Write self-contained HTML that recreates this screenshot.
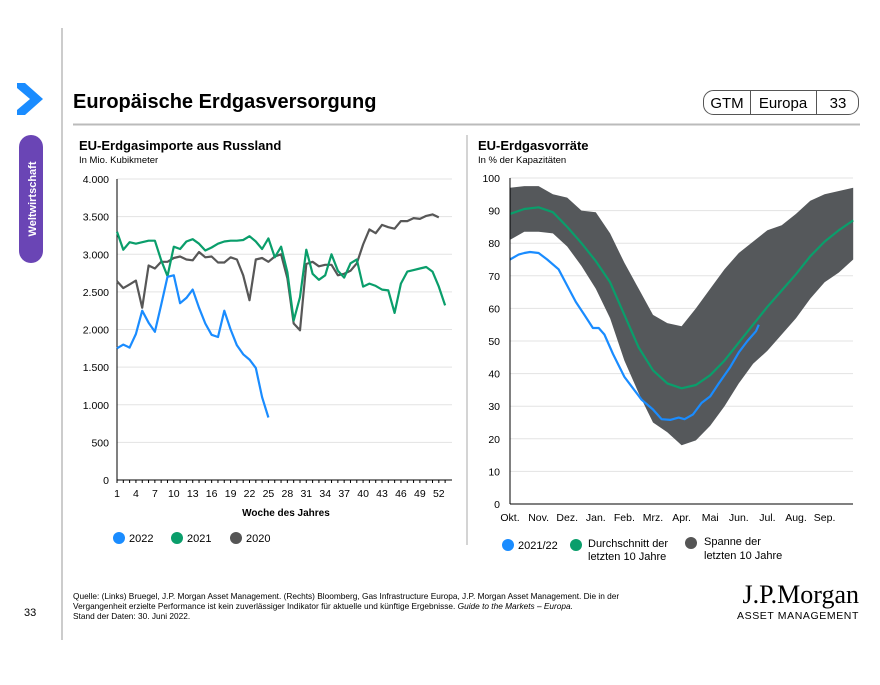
<!DOCTYPE html>
<html><head><meta charset="utf-8"><style>
body{margin:0;width:880px;height:680px;background:#fff;overflow:hidden;font-family:"Liberation Sans",Arial,sans-serif}
svg text{font-family:"Liberation Sans",Arial,sans-serif}
</style></head><body>
<svg id="s" width="880" height="680" xmlns="http://www.w3.org/2000/svg">
<line x1="62" y1="28" x2="62" y2="640" stroke="#999" stroke-width="1"/>
<polygon points="17,83 25,83 43,99 25,115 17,115 17,110 30,99 17,88" fill="#1a8cff"/>
<rect x="19" y="135" width="24" height="128" rx="12" fill="#6a45b5"/>
<text transform="translate(36,199) rotate(-90)" text-anchor="middle" font-size="11" font-weight="bold" fill="#fff">Weltwirtschaft</text>
<text x="73" y="108" font-size="20" font-weight="bold" fill="#000">Europäische Erdgasversorgung</text>
<line x1="73" y1="124.5" x2="860" y2="124.5" stroke="#bbb" stroke-width="2"/>
<rect x="703.5" y="90.5" width="155" height="24" rx="10" fill="none" stroke="#555"/>
<line x1="750.5" y1="91" x2="750.5" y2="114" stroke="#555"/>
<line x1="816.5" y1="91" x2="816.5" y2="114" stroke="#555"/>
<text x="727" y="108" font-size="15" text-anchor="middle">GTM</text>
<text x="783" y="108" font-size="15" text-anchor="middle">Europa</text>
<text x="838" y="108" font-size="15" text-anchor="middle">33</text>
<line x1="467" y1="135" x2="467" y2="545" stroke="#aaa"/>
<text x="79" y="150" font-size="13" font-weight="bold">EU-Erdgasimporte aus Russland</text>
<text x="79" y="163" font-size="9.5">In Mio. Kubikmeter</text>
<text x="478" y="150" font-size="13" font-weight="bold">EU-Erdgasvorräte</text>
<text x="478" y="163" font-size="9.5">In % der Kapazitäten</text>
<g id="L"></g><g id="R"></g>
<text x="286" y="516" font-size="10" font-weight="bold" text-anchor="middle">Woche des Jahres</text>
<circle cx="119" cy="538" r="6" fill="#1a8cff"/><text x="129" y="542" font-size="11">2022</text>
<circle cx="177" cy="538" r="6" fill="#0a9e6b"/><text x="187" y="542" font-size="11">2021</text>
<circle cx="236" cy="538" r="6" fill="#555"/><text x="246" y="542" font-size="11">2020</text>
<circle cx="508" cy="545" r="6" fill="#1a8cff"/><text x="518" y="549" font-size="11">2021/22</text>
<circle cx="576" cy="545" r="6" fill="#0a9e6b"/><text x="588" y="547" font-size="11">Durchschnitt der</text><text x="588" y="560" font-size="11">letzten 10 Jahre</text>
<circle cx="691" cy="543" r="6" fill="#555"/><text x="704" y="545" font-size="11">Spanne der</text><text x="704" y="559" font-size="11">letzten 10 Jahre</text>
<text x="73" y="599" font-size="8.3">Quelle: (Links) Bruegel, J.P. Morgan Asset Management. (Rechts) Bloomberg, Gas Infrastructure Europa, J.P. Morgan Asset Management. Die in der</text>
<text x="73" y="609" font-size="8.3">Vergangenheit erzielte Performance ist kein zuverlässiger Indikator für aktuelle und künftige Ergebnisse. <tspan font-style="italic">Guide to the Markets – Europa.</tspan></text>
<text x="73" y="619" font-size="8.3">Stand der Daten: 30. Juni 2022.</text>
<text x="24" y="616" font-size="11">33</text>
<text x="859" y="603" font-size="26" text-anchor="end" style="font-family:'Liberation Serif',serif">J.P.Morgan</text>
<text x="859" y="619" font-size="10.5" text-anchor="end" letter-spacing="0.6">ASSET MANAGEMENT</text>
</svg>
<script>
var NS="http://www.w3.org/2000/svg";
function el(g,t,a,txt){var e=document.createElementNS(NS,t);for(var k in a)e.setAttribute(k,a[k]);if(txt!==undefined)e.textContent=txt;document.getElementById(g).appendChild(e);return e;}
var x0=117,y0=480,yt=179,wk=6.31;
function lx(w){return x0+(w-1)*wk} function ly(v){return y0-(y0-yt)*v/4000}
function fmt(v){if(v<1000)return String(v);var t=Math.floor(v/1000),r=v%1000;return t+"."+("00"+r).slice(-3);}
for(var v=0;v<=4000;v+=500){var y=ly(v);if(v>0)el("L","line",{x1:x0,y1:y,x2:452,y2:y,stroke:"#e3e3e3"});el("L","text",{x:109,y:y+4,"font-size":10.5,"text-anchor":"end"},fmt(v));}
el("L","line",{x1:x0,y1:yt,x2:x0,y2:y0,stroke:"#000"});el("L","line",{x1:x0,y1:y0,x2:452,y2:y0,stroke:"#000"});
for(var w=1;w<=52;w+=3){el("L","text",{x:lx(w),y:497,"font-size":10.5,"text-anchor":"middle"},w);}
for(var w=1;w<=53;w++)el("L","line",{x1:lx(w),y1:y0,x2:lx(w),y2:y0+3,stroke:"#000"});
var d22=[1750,1800,1760,1940,2250,2090,1970,2330,2700,2720,2350,2420,2530,2290,2080,1930,1900,2250,2000,1790,1670,1600,1490,1100,830];
var d21=[3300,3060,3160,3140,3160,3180,3180,2920,2710,3100,3070,3170,3200,3140,3050,3090,3140,3170,3180,3180,3190,3240,3170,3070,3210,2960,3100,2760,2120,2430,3060,2740,2660,2720,3000,2780,2690,2880,2930,2570,2610,2580,2530,2520,2220,2610,2770,2790,2810,2830,2770,2570,2320];
var d20=[2640,2550,2600,2650,2290,2850,2810,2900,2900,2950,2970,2930,2920,3030,2960,2970,2890,2890,2960,2930,2720,2390,2930,2950,2900,2970,3000,2680,2080,1990,2870,2900,2840,2860,2860,2720,2740,2780,2880,3130,3330,3280,3390,3360,3340,3440,3440,3480,3470,3510,3530,3490];
function pl(d,c){el("L","polyline",{points:d.map(function(v,i){return lx(i+1).toFixed(1)+","+ly(v).toFixed(1)}).join(" "),fill:"none",stroke:c,"stroke-width":2.2,"stroke-linejoin":"round"});}
pl(d20,"#575757");pl(d21,"#0a9e6b");pl(d22,"#1a8cff");
var rx0=510,ry0=504,ryt=178,mw=28.6;
function rx(t){return rx0+t*mw} function ry(v){return ry0-(ry0-ryt)*v/100}
for(var v=0;v<=100;v+=10){var y=ry(v);if(v>0)el("R","line",{x1:rx0,y1:y,x2:853,y2:y,stroke:"#e3e3e3"});el("R","text",{x:500,y:y+4,"font-size":10.5,"text-anchor":"end"},v);}
var up=[[0,97],[0.5,97.5],[1,97.5],[1.5,95],[2,94],[2.5,90],[3,89.5],[3.5,83],[4,74],[4.5,66],[5,58],[5.5,55.5],[6,54.5],[6.5,60],[7,66],[7.5,72],[8,77],[8.5,80.5],[9,84],[9.5,85.5],[10,89],[10.5,93],[11,95],[12,97]];
var lo=[[0,81],[0.5,83.5],[1,83.5],[1.5,83],[2,79],[2.5,73],[3,66],[3.5,57],[4,44],[4.5,34],[5,25],[5.5,22],[6,18],[6.5,19.5],[7,24],[7.5,30],[8,37],[8.5,43],[9,47],[9.5,52],[10,57],[10.5,63],[11,68],[11.5,71],[12,75]];
var pts=up.map(function(p){return rx(p[0]).toFixed(1)+","+ry(p[1]).toFixed(1)}).concat(lo.slice().reverse().map(function(p){return rx(p[0]).toFixed(1)+","+ry(p[1]).toFixed(1)}));
el("R","polygon",{points:pts.join(" "),fill:"#55585b"});
var avg=[[0,89],[0.5,90.5],[1,91],[1.5,89.5],[2,85],[2.5,80],[3,74.5],[3.5,68],[4,58],[4.5,48],[5,41],[5.5,37],[6,35.5],[6.5,36.5],[7,39.5],[7.5,44],[8,49.5],[8.5,55],[9,60.5],[9.5,65.5],[10,70.5],[10.5,76],[11,80.5],[11.5,84],[12,87]];
var bl=[[0,75],[0.3,76.5],[0.5,77],[0.7,77.3],[1,77],[1.3,75],[1.7,72],[2,67],[2.3,62],[2.6,58],[2.9,54],[3.1,54],[3.3,52],[3.6,46],[4,39],[4.3,35.5],[4.6,32],[5,29],[5.3,26],[5.6,25.8],[5.9,26.5],[6.1,26],[6.4,27.5],[6.7,31],[7,33],[7.3,37],[7.7,42],[8,46.5],[8.3,50],[8.6,53],[8.7,55]];
function rpl(d,c){el("R","polyline",{points:d.map(function(p){return rx(p[0]).toFixed(1)+","+ry(p[1]).toFixed(1)}).join(" "),fill:"none",stroke:c,"stroke-width":2.2,"stroke-linejoin":"round"});}
rpl(avg,"#0a9e6b");rpl(bl,"#1a8cff");
el("R","line",{x1:rx0,y1:ryt,x2:rx0,y2:ry0,stroke:"#000"});el("R","line",{x1:rx0,y1:ry0,x2:853,y2:ry0,stroke:"#000"});
var m=["Okt.","Nov.","Dez.","Jan.","Feb.","Mrz.","Apr.","Mai","Jun.","Jul.","Aug.","Sep."];
for(var i=0;i<12;i++){el("R","text",{x:rx(i),y:521,"font-size":10.5,"text-anchor":"middle"},m[i]);}
</script>
</body></html>
